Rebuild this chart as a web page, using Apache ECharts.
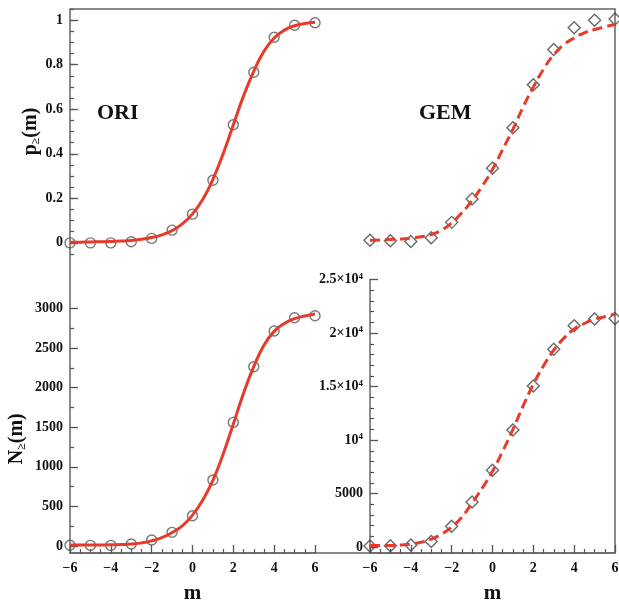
<!DOCTYPE html>
<html><head><meta charset="utf-8">
<script src="https://cdn.jsdelivr.net/npm/echarts@6/dist/echarts.min.js"></script>
<style>html,body{margin:0;padding:0;background:#fff}#c{width:619px;height:601px}</style>
</head><body><div id="c"></div>
<script>
// ---- data ----
const mPoints = [-6,-5,-4,-3,-2,-1,0,1,2,3,4,5,6];
const mCurve = [-6,-5.5,-5,-4.5,-4,-3.5,-3,-2.5,-2,-1.5,-1,-0.5,0,0.5,1,1.5,2,2.5,3,3.5,4,4.5,5,5.5,6];

const oriPPoints = [0.0,0.0,0.0,0.005,0.02,0.057,0.129,0.281,0.53,0.766,0.923,0.977,0.988];
const oriPCurve  = [0.003,0.003,0.004,0.005,0.006,0.008,0.011,0.016,0.024,0.036,0.055,0.085,0.13,0.195,0.285,0.40,0.53,0.66,0.77,0.86,0.92,0.955,0.975,0.985,0.99];

const gemPPoints = [0.012,0.009,0.006,0.023,0.092,0.197,0.335,0.517,0.71,0.868,0.966,1.0,1.005];
const gemPCurve  = [0.012,0.013,0.015,0.017,0.021,0.027,0.037,0.057,0.09,0.135,0.19,0.255,0.33,0.42,0.51,0.61,0.70,0.78,0.845,0.89,0.92,0.943,0.958,0.97,0.98];

const oriNPoints = [10,8,8,25,76,173,383,833,1561,2264,2715,2883,2908];
const oriNCurve  = [12,12,12,13,15,19,25,40,65,105,170,255,390,580,830,1160,1540,1930,2265,2535,2710,2810,2870,2905,2930];

const gemNPoints = [100,125,190,530,1940,4220,7190,10940,15060,18500,20690,21310,21375];
const gemNCurve  = [150,150,150,200,280,450,750,1200,1875,2810,4125,5530,7090,8970,11000,13190,15220,16940,18400,19530,20375,20900,21310,21530,21780];

// tick values
const pTicks = [0,0.2,0.4,0.6,0.8,1];
const oriNTicks = [0,500,1000,1500,2000,2500,3000];
const oriNMinor = [250,750,1250,1750,2250,2750];
const gemNTicks = [0,5000,10000,15000,20000,25000];
const gemNTickLabels = ['0','5000','10{sup|4}','1.5×10{sup|4}','2×10{sup|4}','2.5×10{sup|4}'];
const gemNMinor = [1000,2000,3000,4000,6000,7000,8000,9000,11000,12000,13000,14000,16000,17000,18000,19000,21000,22000,23000,24000];

// ---- style ----
const SERIF = '"Liberation Serif","DejaVu Serif",serif';
const RED = '#e63b2b';
const AX = '#666666';
const TK = '#555555';
const lbl = {fontFamily: SERIF, fontWeight: 'bold', fontSize: 14, color: '#111'};
const zip = (xs, ys) => xs.map((x, i) => [x, ys[i]]);
const fmtX = v => v < 0 ? '\u2212' + Math.abs(v) : String(v);
const nameStyle = {fontFamily: SERIF, fontWeight: 'bold', fontSize: 20, color: '#111',
  rich: {s: {fontFamily: SERIF, fontWeight: 'bold', fontSize: 12, color: '#111', verticalAlign: 'bottom', padding: [10,0,0,0]}}};

const chart = echarts.init(document.getElementById('c'), null, {renderer: 'canvas'});

function hiddenX(g){ return {type:'value', gridIndex:g, min:-6, max:6, show:false}; }
function bottomX(g){
  return {type:'value', gridIndex:g, min:-6, max:6, interval:2, position:'bottom',
    axisLine:{show:true, onZero:false, lineStyle:{color:AX, width:1.5}},
    axisTick:{show:true, inside:true, length:8, lineStyle:{color:TK, width:1.3}},
    minorTick:{show:true, splitNumber:4, length:4, lineStyle:{color:TK, width:1.2}},
    splitLine:{show:false},
    axisLabel:{...lbl, margin:8, formatter: fmtX},
    name:'m', nameLocation:'middle', nameGap:30,
    nameTextStyle:{fontFamily:SERIF, fontWeight:'bold', fontSize:21, color:'#111'}};
}
function majorY(g, min, max, ticks, extra){
  return Object.assign({type:'value', gridIndex:g, min:min, max:max, position:'left',
    axisLine:{show:false, onZero:false},
    axisTick:{show:true, inside:true, length:8, customValues:ticks, lineStyle:{color:TK, width:1.3}},
    axisLabel:{...lbl, margin:7, customValues:ticks, formatter:(v)=>String(v)},
    splitLine:{show:false}}, extra||{});
}
function minorY(g, min, max, spec){
  return Object.assign({type:'value', gridIndex:g, min:min, max:max, position:'left',
    axisLine:{show:false, onZero:false},
    axisLabel:{show:false},
    splitLine:{show:false}}, spec);
}
const G = {outerBoundsMode:'none', containLabel:false};

const option = {
  animation:false,
  backgroundColor:'#ffffff',
  title:[
    {text:'ORI', left:92, top:97, textStyle:{fontFamily:SERIF, fontWeight:'bold', fontSize:22, color:'#111'}},
    {text:'GEM', left:414, top:97, textStyle:{fontFamily:SERIF, fontWeight:'bold', fontSize:22, color:'#111'}}
  ],
  grid:[
    {...G, left:70, right:4, top:9, bottom:48, show:true, borderColor:AX, borderWidth:1.5, backgroundColor:'transparent'},
    {...G, left:70, width:245, top:9, height:245},
    {...G, left:370, width:245, top:9, height:245},
    {...G, left:70, width:245, top:300.5, bottom:48},
    {...G, left:370, width:245, top:279.6, bottom:48}
  ],
  xAxis:[
    {type:'value', gridIndex:0, show:false, min:0, max:1},
    hiddenX(1),
    hiddenX(2),
    bottomX(3),
    bottomX(4)
  ],
  yAxis:[
    {type:'value', gridIndex:0, show:false, min:0, max:1},
    majorY(1, -0.05, 1.05, pTicks, {name:'p{s|≥}(m)', nameLocation:'middle', nameGap:28, nameTextStyle:nameStyle}),
    minorY(1, -0.05, 1.05, {interval:0.05, axisTick:{show:true, inside:true, length:4, lineStyle:{color:TK, width:1.2}}}),
    {type:'value', gridIndex:2, min:-0.05, max:1.05, show:false},
    majorY(3, -88, 3100, oriNTicks, {name:'N{s|≥}(m)', nameLocation:'middle', nameGap:42, nameTextStyle:Object.assign({}, nameStyle, {padding:[0,24,0,0]})}),
    minorY(3, -88, 3100, {axisTick:{show:true, inside:true, length:4, customValues:oriNMinor, lineStyle:{color:TK, width:1.2}}}),
    majorY(4, -550, 25000, gemNTicks, {axisLine:{show:true, onZero:false, lineStyle:{color:AX, width:1.5}},
      axisLabel:{...lbl, margin:7, customValues:gemNTicks,
        formatter:(v)=>gemNTickLabels[gemNTicks.indexOf(v)],
        rich:{sup:{fontFamily:SERIF, fontWeight:'bold', fontSize:9, color:'#111', verticalAlign:'top', padding:[0,0,6,0]}}}}),
    minorY(4, -550, 25000, {axisTick:{show:true, inside:true, length:4, customValues:gemNMinor, lineStyle:{color:TK, width:1.2}}})
  ],
  series:[
    {type:'line', xAxisIndex:1, yAxisIndex:1, data:zip(mCurve, oriPCurve), smooth:true, showSymbol:false, clip:true,
      lineStyle:{color:RED, width:3}},
    {type:'scatter', xAxisIndex:1, yAxisIndex:1, data:zip(mPoints, oriPPoints), symbol:'circle', symbolSize:10, clip:true,
      itemStyle:{color:'rgba(0,0,0,0)', borderColor:'#555', borderWidth:1.4}},
    {type:'line', xAxisIndex:2, yAxisIndex:3, data:zip(mCurve, gemPCurve), smooth:true, showSymbol:false, clip:true,
      lineStyle:{color:RED, width:3, type:[10,5]}},
    {type:'scatter', xAxisIndex:2, yAxisIndex:3, data:zip(mPoints, gemPPoints), symbol:'diamond', symbolSize:12, clip:true,
      itemStyle:{color:'rgba(0,0,0,0)', borderColor:'#444', borderWidth:1.4}},
    {type:'line', xAxisIndex:3, yAxisIndex:4, data:zip(mCurve, oriNCurve), smooth:true, showSymbol:false, clip:true,
      lineStyle:{color:RED, width:3}},
    {type:'scatter', xAxisIndex:3, yAxisIndex:4, data:zip(mPoints, oriNPoints), symbol:'circle', symbolSize:10, clip:true,
      itemStyle:{color:'rgba(0,0,0,0)', borderColor:'#555', borderWidth:1.4}},
    {type:'line', xAxisIndex:4, yAxisIndex:6, data:zip(mCurve, gemNCurve), smooth:true, showSymbol:false, clip:true,
      lineStyle:{color:RED, width:3, type:[10,5]}},
    {type:'scatter', xAxisIndex:4, yAxisIndex:6, data:zip(mPoints, gemNPoints), symbol:'diamond', symbolSize:12, clip:true,
      itemStyle:{color:'rgba(0,0,0,0)', borderColor:'#444', borderWidth:1.4}}
  ]
};
chart.setOption(option);
</script>
</body></html>
